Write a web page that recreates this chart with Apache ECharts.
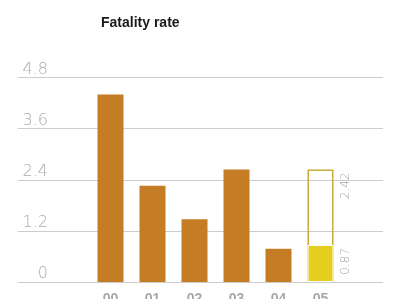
<!DOCTYPE html>
<html>
<head>
<meta charset="utf-8">
<title>Fatality rate</title>
<script src="https://cdn.jsdelivr.net/npm/echarts@6/dist/echarts.min.js"></script>
<style>
  html, body { margin: 0; padding: 0; background: #fff; }
  #chart { width: 413px; height: 299px; }
</style>
</head>
<body>
<div id="chart"></div>
<script>
// values
var years = ['00', '01', '02', '03', '04', '05'];
var rates = [4.40, 2.26, 1.47, 2.64, 0.78, '-'];
var boxValues = ['-', '-', '-', '-', '-', 2.64];
var partValues = ['-', '-', '-', '-', '-', 0.87];
var boxLabel = '2.42';
var partLabel = '0.87';
var yTicks = [0, 1.2, 2.4, 3.6, 4.8];

var chart = echarts.init(document.getElementById('chart'));

var sideLabel = function (txt, dx) {
  return {
    show: true,
    formatter: txt,
    position: [dx, 3],
    rotate: 90,
    align: 'right',
    verticalAlign: 'middle',
    color: '#a8a8a8',
    fontFamily: 'DejaVu Sans',
    fontWeight: 200,
    fontSize: 12
  };
};

var option = {
  animation: false,
  title: {
    text: 'Fatality rate',
    left: 96,
    top: 11,
    textStyle: { fontFamily: 'Liberation Sans', fontWeight: 'bold', fontSize: 14, color: '#1a1a1a' }
  },
  grid: [
    { left: 18, right: 30, top: 77.5, bottom: 17, outerBoundsMode: 'none' },
    { left: 89.5, right: 71.5, top: 77.5, bottom: 17, outerBoundsMode: 'none' }
  ],
  xAxis: [
    { gridIndex: 0, type: 'value', min: 0, max: 1, show: false },
    {
      gridIndex: 1, type: 'category', data: years,
      axisLine: { show: false }, axisTick: { show: false },
      axisLabel: { margin: 10, color: '#a8a8a8', fontFamily: 'Liberation Sans', fontWeight: 'bold', fontSize: 14 }
    }
  ],
  yAxis: [
    {
      gridIndex: 0, type: 'value', min: yTicks[0], max: yTicks[yTicks.length - 1], interval: 1.2,
      axisLine: { show: false }, axisTick: { show: false },
      splitLine: { lineStyle: { color: '#cccccc', width: 1 } },
      axisLabel: {
        inside: true, margin: 30, align: 'right', verticalAlign: 'bottom',
        color: '#aaaaaa', fontFamily: 'DejaVu Sans', fontWeight: 200, fontSize: 16,
        formatter: function (v) { return v === 0 ? '0' : v.toFixed(1); }
      }
    },
    { gridIndex: 1, type: 'value', min: 0, max: 4.8, show: false }
  ],
  series: [
    {
      type: 'bar', xAxisIndex: 1, yAxisIndex: 1, data: rates,
      barWidth: 26, barGap: '-100%',
      itemStyle: { color: '#c47d24' }
    },
    {
      type: 'bar', xAxisIndex: 1, yAxisIndex: 1, data: boxValues,
      barWidth: 26, barGap: '-100%',
      itemStyle: { color: 'rgba(0,0,0,0)', borderColor: '#c9a83c', borderWidth: 1.5 },
      label: sideLabel(boxLabel, 38)
    },
    {
      type: 'bar', xAxisIndex: 1, yAxisIndex: 1, data: partValues,
      barWidth: 26, barGap: '-100%',
      itemStyle: { color: '#e4cf1f', borderColor: '#ffffff', borderWidth: 1 },
      label: sideLabel(partLabel, 38)
    }
  ]
};

chart.setOption(option);
</script>
</body>
</html>
